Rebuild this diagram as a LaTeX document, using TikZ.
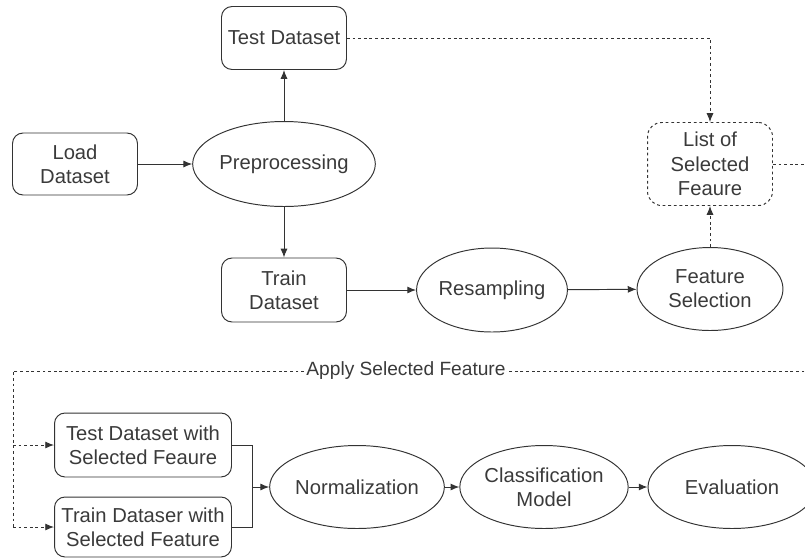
\documentclass[tikz,border=0pt]{standalone}
\usepackage{fontspec}
\setmainfont{Liberation Sans}
\usetikzlibrary{arrows.meta,shapes.geometric}
\definecolor{linegray}{HTML}{333333}
\definecolor{textgray}{HTML}{3A3A3A}
\tikzset{
    box/.style={draw=linegray, line width=0.55pt, rounded corners=6pt, align=center,
        inner sep=1pt, text=textgray, font=\fontsize{11.5}{13.8}\selectfont},
    oval/.style={draw=linegray, line width=0.55pt, ellipse, align=center,
        inner sep=0pt, text=textgray, font=\fontsize{11.5}{13.8}\selectfont},
    flow/.style={draw=linegray, line width=0.55pt, -{Latex[length=5pt,width=4pt]}},
    link/.style={draw=linegray, line width=0.55pt},
    dashlink/.style={draw=linegray, line width=0.55pt, dash pattern=on 1.6pt off 1.6pt},
}
\begin{document}
\begin{tikzpicture}[x=0.02cm, y=-0.02cm]
        \useasboundingbox (0,0) rectangle (805,559);
        \clip (0,0) rectangle (805,559);
        % upper part
        \node[box, minimum width=2.5cm, minimum height=1.26cm] (test) at (284,38) {Test Dataset};
        \node[box, minimum width=2.5cm, minimum height=1.24cm] (load) at (75,164) {Load\\Dataset};
        \node[oval, minimum width=3.36cm, minimum height=1.7cm] (prep) at (284,164) {Preprocessing};
        \node[box, minimum width=2.5cm, minimum height=1.28cm] (train) at (284,290) {Train\\Dataset};
        \node[oval, minimum width=2.98cm, minimum height=1.68cm] (resamp) at (492,290) {Resampling};
        \node[oval, minimum width=2.92cm, minimum height=1.66cm] (featsel) at (710,289) {Feature\\Selection};
        \node[box, dashlink, rounded corners=8pt, minimum width=2.5cm, minimum height=1.66cm] (list) at (710,164) {List of\\Selected\\Feaure};
        \draw[flow] (load) -- (prep);
        \draw[flow] (prep) -- (test);
        \draw[flow] (prep) -- (train);
        \draw[flow] (train) -- (resamp);
        \draw[flow] (resamp) -- (featsel);
        \draw[flow, dashlink] (featsel) -- (list);
        \draw[flow, dashlink] (test.east) -| (list.north);
        \coordinate (listout) at (810,164);
        \draw[dashlink] (list.east) -- (listout);
        % lower part
        \node[box, minimum width=3.54cm, minimum height=1.28cm] (testsel) at (143,445) {Test Dataset with\\Selected Feaure};
        \node[box, minimum width=3.54cm, minimum height=1.2cm] (trainsel) at (143,527) {Train Dataser with\\Selected Feature};
        \node[oval, minimum width=3.3cm, minimum height=1.66cm] (norm) at (357,487) {Normalization};
        \node[oval, minimum width=3.32cm, minimum height=1.66cm] (clf) at (544,487) {Classification\\Model};
        \node[oval, minimum width=3.36cm, minimum height=1.66cm] (eval) at (732,487) {Evaluation};
        \coordinate (applyin) at (810,371);
        \coordinate (applycorner) at (13,371);
        \coordinate (merge) at (252,487);
        \draw[dashlink] (applyin) -- (applycorner) -- (applycorner |- trainsel);
        \node[fill=white, inner xsep=0.5pt, inner ysep=1pt, text=textgray, font=\fontsize{10.9}{13}\selectfont] (apply) at (406,371) {Apply Selected Feature};
        \draw[flow, dashlink] (applycorner |- testsel) -- (testsel.west);
        \draw[flow, dashlink] (applycorner |- trainsel) -- (trainsel.west);
        \draw[link] (testsel.east) -| (merge);
        \draw[link] (trainsel.east) -| (merge);
        \draw[flow] (merge) -- (norm);
        \draw[flow] (norm) -- (clf);
        \draw[flow] (clf) -- (eval);
\end{tikzpicture}
\end{document}
